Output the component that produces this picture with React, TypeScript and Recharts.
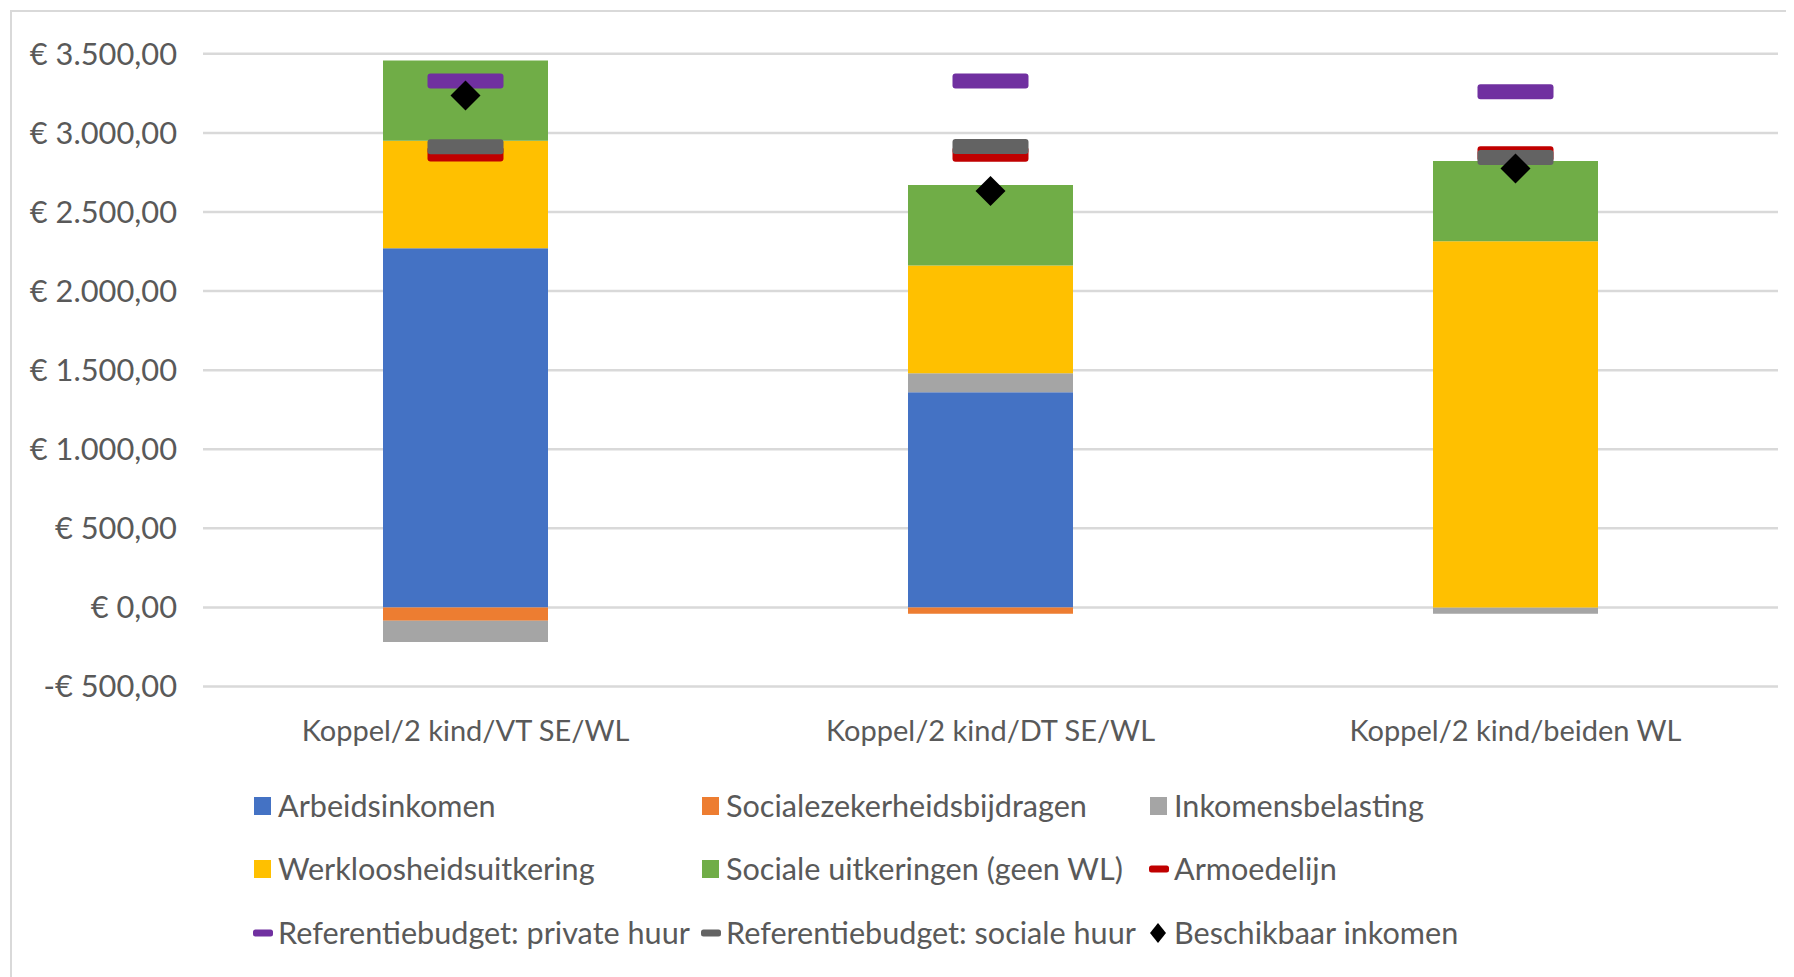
import React from 'react';
import { ComposedChart, Bar, Line, XAxis, YAxis, CartesianGrid } from 'recharts';

const categories = ['Koppel/2 kind/VT SE/WL', 'Koppel/2 kind/DT SE/WL', 'Koppel/2 kind/beiden WL'];
const arbeidsinkomen = [2270, 1360, 0];
const socialezekerheid = [-85, -40, 0];
const inkomensbelasting = [-133, 120, -40];
const werkloosheid = [680, 682, 2315];
const socialeUitkeringen = [507, 508, 507];
const armoedelijn = [2867, 2865, 2868];
const refPrivate = [3328, 3328, 3260];
const refSociale = [2912, 2914, 2845];
const beschikbaar = [3237, 2632, 2775];
const yTicks = [-500, 0, 500, 1000, 1500, 2000, 2500, 3000, 3500];

const C = {
  blue: '#4472C4', orange: '#ED7D31', grey: '#A5A5A5', yellow: '#FFC000', green: '#70AD47',
  red: '#C00000', purple: '#7030A0', dark: '#636363', black: '#000000', text: '#595959', grid: '#D9D9D9',
};

const data = categories.map((cat, i) => ({
  cat,
  arb: arbeidsinkomen[i],
  sz: socialezekerheid[i],
  ib: inkomensbelasting[i],
  wl: werkloosheid[i],
  su: socialeUitkeringen[i],
  arm: armoedelijn[i],
  rp: refPrivate[i],
  rs: refSociale[i],
  bi: beschikbaar[i],
}));

const FONT = 'Lato, "Open Sans", sans-serif';
const FS_X = 29;
const FS_Y = 30.8;
const FS_L = 30.6;

function fmt(v: number): string {
  const abs = Math.abs(v);
  const int = Math.floor(abs).toString().replace(/\B(?=(\d{3})+(?!\d))/g, '.');
  const s = `€ ${int},00`;
  return v < 0 ? `-${s}` : s;
}

const dash = (color: string) => (props: any) => {
  const { cx, cy, index } = props;
  if (cx == null || cy == null) return <g key={`d${index}`} />;
  return <rect key={`d${color}${index}`} x={cx - 38} y={cy - 7.5} width={76} height={15} rx={3} fill={color} />;
};

const diamond = (props: any) => {
  const { cx, cy, index } = props;
  if (cx == null || cy == null) return <g key={`m${index}`} />;
  const r = 15;
  return <polygon key={`dm${index}`} points={`${cx},${cy - r} ${cx + r},${cy} ${cx},${cy + r} ${cx - r},${cy}`} fill={C.black} />;
};

const legendItems = [
  { name: 'Arbeidsinkomen', color: C.blue, kind: 'sq' },
  { name: 'Socialezekerheidsbijdragen', color: C.orange, kind: 'sq' },
  { name: 'Inkomensbelasting', color: C.grey, kind: 'sq' },
  { name: 'Werkloosheidsuitkering', color: C.yellow, kind: 'sq' },
  { name: 'Sociale uitkeringen (geen WL)', color: C.green, kind: 'sq' },
  { name: 'Armoedelijn', color: C.red, kind: 'dash' },
  { name: 'Referentiebudget: private huur', color: C.purple, kind: 'dash' },
  { name: 'Referentiebudget: sociale huur', color: C.dark, kind: 'dash' },
  { name: 'Beschikbaar inkomen', color: C.black, kind: 'dia' },
];

function LegendMarker({ kind, color }: { kind: string; color: string }) {
  if (kind === 'sq') return <svg width={20} height={20}><rect x={1} y={1} width={17} height={18} fill={color} /></svg>;
  if (kind === 'dash') return <svg width={20} height={20}><rect x={0} y={6.5} width={20} height={7} rx={2.5} fill={color} /></svg>;
  return <svg width={20} height={20}><polygon points="9,0 17,10 9,20 1,10" fill={color} /></svg>;
}

export default function App() {
  const rowsY = [797.6, 860.5, 924.6];
  const colsX = [245, 693, 1141];
  return (
    <div style={{ position: 'relative', width: 1786, height: 969, fontFamily: FONT, background: '#fff' }}>
      <div style={{ position: 'absolute', left: 2, top: 2, width: 1790, height: 1000, borderLeft: `2.5px solid ${C.grid}`, borderTop: `2.5px solid ${C.grid}` }} />
      <div style={{ position: 'absolute', left: 0, top: 0 }}>
        <ComposedChart
          width={1786}
          height={969}
          data={data}
          stackOffset="sign"
          margin={{ top: 45.8, right: 16, left: 0, bottom: 230.5 }}
        >
          <CartesianGrid vertical={false} stroke={C.grid} strokeWidth={2.5} />
          <XAxis
            dataKey="cat"
            axisLine={false}
            tickLine={false}
            height={60}
            tickSize={0}
            tickMargin={34}
            tick={{ fill: C.text, fontSize: FS_X, fontFamily: FONT }}
          />
          <YAxis
            domain={[-500, 3500]}
            ticks={yTicks}
            width={195}
            axisLine={false}
            tickLine={false}
            tickSize={0}
            tickMargin={26}
            tickFormatter={fmt}
            tick={{ fill: C.text, fontSize: FS_Y, fontFamily: FONT }}
            interval={0}
          />
          <Bar dataKey="arb" stackId="a" fill={C.blue} barSize={165} isAnimationActive={false} />
          <Bar dataKey="sz" stackId="a" fill={C.orange} barSize={165} isAnimationActive={false} />
          <Bar dataKey="ib" stackId="a" fill={C.grey} barSize={165} isAnimationActive={false} />
          <Bar dataKey="wl" stackId="a" fill={C.yellow} barSize={165} isAnimationActive={false} />
          <Bar dataKey="su" stackId="a" fill={C.green} barSize={165} isAnimationActive={false} />
          <Line dataKey="arm" stroke="none" dot={dash(C.red)} activeDot={false} isAnimationActive={false} legendType="none" />
          <Line dataKey="rp" stroke="none" dot={dash(C.purple)} activeDot={false} isAnimationActive={false} legendType="none" />
          <Line dataKey="rs" stroke="none" dot={dash(C.dark)} activeDot={false} isAnimationActive={false} legendType="none" />
          <Line dataKey="bi" stroke="none" dot={diamond} activeDot={false} isAnimationActive={false} legendType="none" />
        </ComposedChart>
      </div>
      {legendItems.map((it, i) => {
        const r = Math.floor(i / 3);
        const c = i % 3;
        return (
          <div key={it.name} style={{ position: 'absolute', left: colsX[c], top: rowsY[r] - 20, height: 40, display: 'flex', alignItems: 'center', whiteSpace: 'nowrap' }}>
            <LegendMarker kind={it.kind} color={it.color} />
            <span style={{ marginLeft: 5, fontSize: FS_L, color: C.text, fontFamily: FONT }}>{it.name}</span>
          </div>
        );
      })}
    </div>
  );
}
